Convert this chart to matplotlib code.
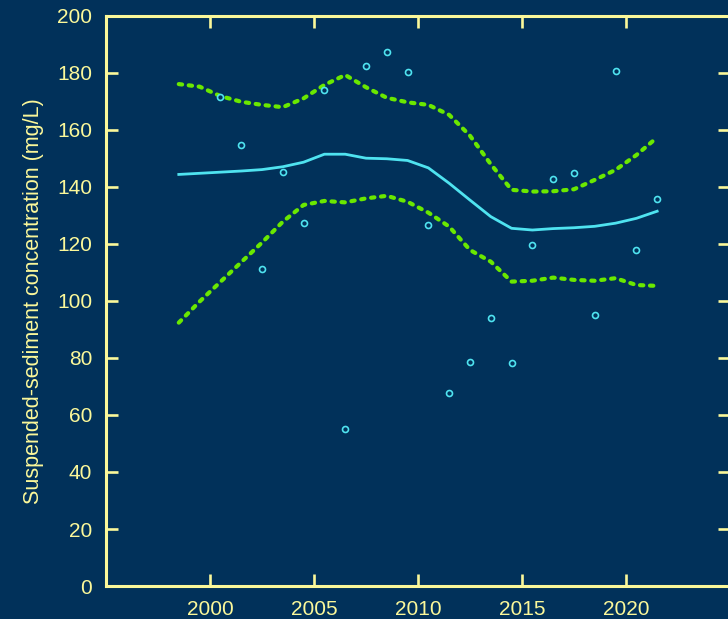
import numpy as np
import matplotlib
matplotlib.use("Agg")
import matplotlib.pyplot as plt

BG = "#01315a"
TXT = "#fbf89a"
CYAN = "#4fe3f0"
GREEN = "#6ae800"

# observed samples (annual, mid-year)
obs_year = [2000.5, 2001.5, 2002.5, 2003.5, 2004.5, 2005.5, 2006.5, 2007.5,
            2008.5, 2009.5, 2010.5, 2011.5, 2012.5, 2013.5, 2014.5, 2015.5,
            2016.5, 2017.5, 2018.5, 2019.5, 2020.5, 2021.5]
obs_ssc = [171.7, 154.6, 111.1, 145.4, 127.5, 173.9, 55.2, 182.5,
           187.3, 180.5, 126.5, 67.6, 78.6, 93.9, 78.2, 119.8,
           142.7, 144.8, 95.0, 180.6, 117.8, 135.8]

# smoothed trend and confidence band
fit_year = [1998.5, 1999.5, 2000.5, 2001.5, 2002.5, 2003.5, 2004.5, 2005.5,
            2006.5, 2007.5, 2008.5, 2009.5, 2010.5, 2011.5, 2012.5, 2013.5,
            2014.5, 2015.5, 2016.5, 2017.5, 2018.5, 2019.5, 2020.5, 2021.5]
fit_mid = [144.4, 144.8, 145.2, 145.6, 146.1, 147.1, 148.7, 151.5,
           151.5, 150.1, 149.9, 149.3, 146.7, 141.3, 135.4, 129.6,
           125.5, 124.9, 125.4, 125.7, 126.2, 127.3, 129.0, 131.5]
fit_hi = [176.1, 175.2, 171.9, 169.9, 168.8, 168.0, 171.1, 175.8,
          179.3, 175.0, 171.3, 169.7, 168.8, 165.3, 158.0, 148.0,
          139.0, 138.4, 138.5, 139.2, 142.5, 146.0, 151.2, 157.4]
fit_lo = [92.4, 99.8, 106.7, 113.6, 120.5, 127.8, 133.7, 135.1,
          134.6, 136.0, 136.9, 134.8, 131.0, 126.1, 117.9, 113.8,
          106.8, 107.1, 108.2, 107.4, 107.1, 108.0, 105.6, 105.3]

x_ticks = [2000, 2005, 2010, 2015, 2020]
y_ticks = [0, 20, 40, 60, 80, 100, 120, 140, 160, 180, 200]

plt.rcParams["font.family"] = ["Liberation Sans", "DejaVu Sans"]

fig = plt.figure(figsize=(7.28, 6.19), dpi=100, facecolor=BG)
ax = fig.add_axes([0.1456, 0.0533, 0.8571, 0.9209], facecolor=BG)

ax.plot(fit_year, fit_hi, color=GREEN, lw=3.0, dashes=(0.8, 1.6),
        dash_capstyle="round")
ax.plot(fit_year, fit_lo, color=GREEN, lw=3.0, dashes=(0.8, 1.6),
        dash_capstyle="round")
ax.plot(fit_year, fit_mid, color=CYAN, lw=2.0)
ax.plot(obs_year, obs_ssc, ls="none", marker="o", ms=4.3, mew=1.2,
        mec=CYAN, mfc=BG)

ax.set_xlim(1995, 2025)
ax.set_ylim(0, 200)
ax.set_xticks(x_ticks)
ax.set_yticks(y_ticks)

for s in ax.spines.values():
    s.set_color(TXT)
    s.set_linewidth(2.2)
ax.tick_params(direction="in", length=8.5, width=1.9, colors=TXT,
               labelsize=15, top=True, right=True)
ax.tick_params(axis="y", pad=10)
ax.tick_params(axis="x", pad=10)

ax.set_ylabel("Suspended-sediment concentration (mg/L)", color=TXT,
              fontsize=15.5, labelpad=9)

fig.savefig("out.png", dpi=100, facecolor=BG)
